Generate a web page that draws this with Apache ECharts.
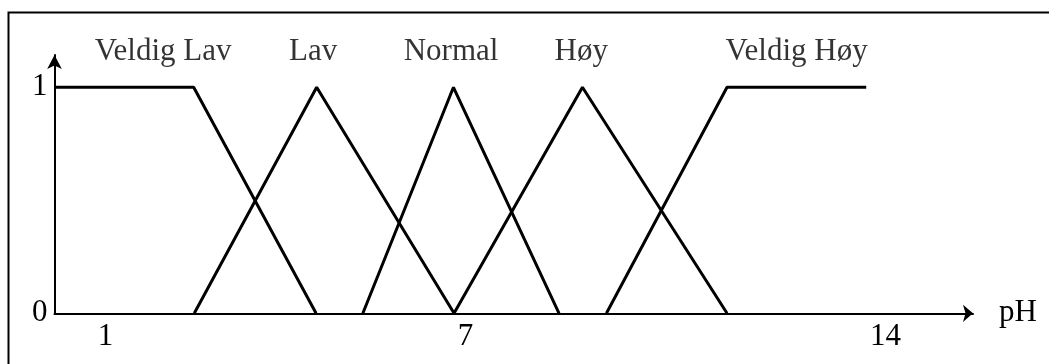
<!DOCTYPE html>
<html>
<head>
<meta charset="utf-8">
<script src="https://cdn.jsdelivr.net/npm/echarts@6/dist/echarts.min.js"></script>
<style>
html, body { margin: 0; padding: 0; background: #fff; }
#main { width: 1049px; height: 364px; }
</style>
</head>
<body>
<div id="main"></div>
<script>
// membership functions, [pH, degree]
var veldigLav = [[0.35, 1], [2.67, 1], [4.71, 0]];
var lav = [[2.68, 0], [4.72, 1], [7.01, 0]];
var normal = [[5.49, 0], [7.0, 1], [8.76, 0]];
var hoy = [[7.01, 0], [9.15, 1], [11.56, 0]];
var veldigHoy = [[9.55, 0], [11.56, 1], [13.88, 1]];

var setNames = ['Veldig Lav', 'Lav', 'Normal', 'Høy', 'Veldig Høy'];
var setNamePh = [2.16, 4.66, 6.96, 9.13, 12.72];

var xTicks = [1, 7, 14];
var yTicks = [0, 1];

var font = 'Liberation Serif';

function curve(name, data) {
	return {
		name : name,
		type : 'line',
		showSymbol : false,
		silent : true,
		lineStyle : { color : '#000', width : 3 },
		data : data
	};
}

var labelData = setNames.map(function(n, i) {
	return { name : n, value : [ setNamePh[i], 1 ] };
});

option = {
	animation : false,
	backgroundColor : '#fff',
	grid : {
		left : 54.5,
		right : 76,
		top : 55,
		bottom : 50.7,
		outerBoundsMode : 'none'
	},
	xAxis : {
		type : 'value',
		min : 0.35,
		max : 15.66,
		name : 'pH',
		nameLocation : 'end',
		nameGap : 26,
		nameTextStyle : {
			color : '#000',
			fontFamily : font,
			fontSize : 31,
			padding : [ 0, 0, 12, 0 ]
		},
		axisLine : {
			show : true,
			symbol : [ 'none', 'arrow' ],
			symbolSize : [ 13, 10 ],
			lineStyle : { color : '#000', width : 2 }
		},
		axisTick : { show : false },
		splitLine : { show : false },
		axisLabel : {
			customValues : xTicks,
			color : '#000',
			fontFamily : font,
			fontSize : 31,
			margin : 8,
			padding : [ 0, 0, 0, 24 ]
		}
	},
	yAxis : {
		type : 'value',
		min : 0,
		max : 1.143,
		axisLine : {
			show : true,
			symbol : [ 'none', 'arrow' ],
			symbolSize : [ 11, 14 ],
			lineStyle : { color : '#000', width : 2 }
		},
		axisTick : { show : false },
		splitLine : { show : false },
		axisLabel : {
			customValues : yTicks,
			color : '#000',
			fontFamily : font,
			fontSize : 31,
			margin : 7,
			padding : [ 0, 0, 12, 0 ]
		}
	},
	series : [
		curve('Veldig Lav', veldigLav),
		curve('Lav', lav),
		curve('Normal', normal),
		curve('Høy', hoy),
		curve('Veldig Høy', veldigHoy),
		{
			type : 'scatter',
			symbolSize : 1,
			silent : true,
			itemStyle : { color : 'rgba(0,0,0,0)' },
			label : {
				show : true,
				position : 'inside',
				offset : [ 0, -35.3 ],
				formatter : '{b}',
				color : '#000',
				textBorderWidth : 0,
				fontFamily : font,
				fontSize : 31
			},
			data : labelData
		}
	],
	graphic : [ {
		type : 'polyline',
		shape : { points : [ [ 8.5, 364 ], [ 8.5, 12.5 ], [ 1049, 12.5 ] ] },
		style : { stroke : '#000', lineWidth : 2, fill : 'none' }
	} ]
};

var myChart = echarts.init(document.getElementById('main'));
myChart.setOption(option);
</script>
</body>
</html>
